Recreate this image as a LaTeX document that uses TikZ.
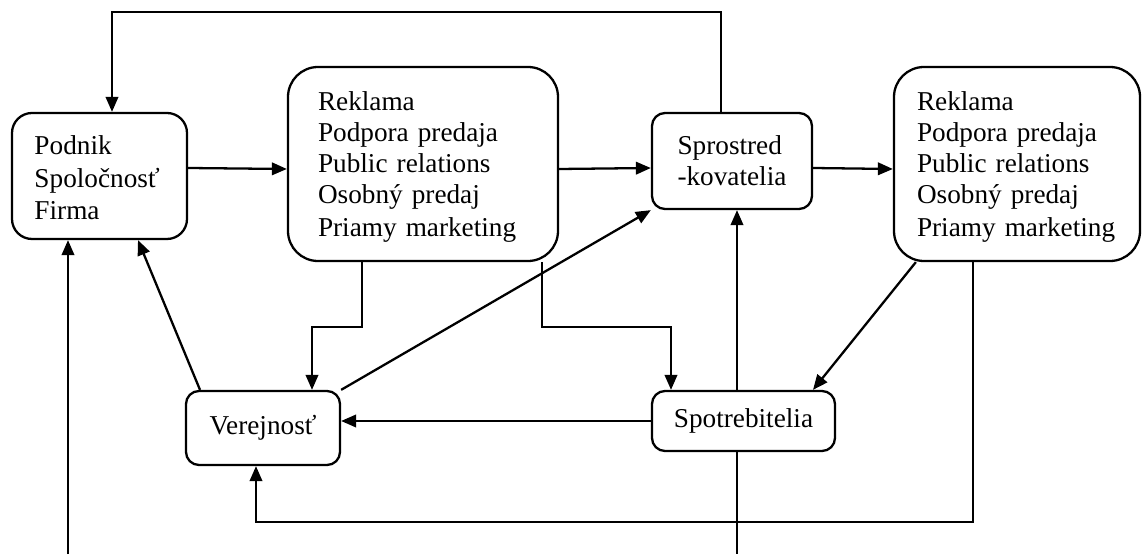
\documentclass[tikz,border=0pt]{standalone}
\usepackage{fontspec}
\setmainfont{Liberation Serif}[WordSpace=0.75]
\usetikzlibrary{arrows.meta}

\begin{document}
\begin{tikzpicture}[line width=1.3pt,>={Triangle[length=0.3cm,width=0.25cm]},
  bigbox/.style={draw,rounded corners=0.6cm,align=left,inner sep=0pt,
    font=\fontsize{15.5}{17.6}\selectfont},
  smallbox/.style={draw,rounded corners=0.26cm,align=left,inner sep=0pt,
    font=\fontsize{15.5}{17.6}\selectfont}]
\useasboundingbox (0,0) rectangle (22.94,11.08);
\node[smallbox,rounded corners=0.4cm,minimum width=3.5cm,minimum height=2.52cm,text width=2.6cm,
  font=\fontsize{15.5}{18.4}\selectfont] at (1.99,7.56) (podnik) {Podnik\rule{0pt}{13pt}\\Spoločnosť\\Firma};
\node[bigbox,minimum width=5.4cm,minimum height=3.88cm,text width=4.2cm] at (8.46,7.8) (rek1) {Reklama\rule{0pt}{14pt}\\Podpora predaja\\Public relations\\Osobný predaj\\[1pt]Priamy marketing};
\node[smallbox,minimum width=3.2cm,minimum height=1.92cm] at (14.64,7.86) (sprost) {Sprostred\\-kovatelia};
\node[bigbox,minimum width=4.92cm,minimum height=3.88cm,text width=4.0cm] at (20.34,7.8) (rek2) {Reklama\rule{0pt}{14pt}\\Podpora predaja\\Public relations\\Osobný predaj\\[1pt]Priamy marketing};
\node[smallbox,minimum width=3.08cm,minimum height=1.48cm] at (5.26,2.52) (verej) {Verejnosť};
\node[smallbox,minimum width=3.66cm,minimum height=1.2cm] at (14.87,2.66) (spotr) {Spotrebitelia};
\coordinate (inP) at (1.36,0);
\coordinate (outS) at (14.74,0);
\draw[->] ([xshift=-0.22cm]sprost.north) -- ++(0,2) -| ([xshift=0.25cm]podnik.north);
\draw[->] ([yshift=0.16cm]podnik.east) -- ([yshift=-0.1cm]rek1.west);
\draw[->] ([yshift=-0.1cm]rek1.east) -- ([yshift=-0.14cm]sprost.west);
\draw[->] ([yshift=-0.14cm]sprost.east) -- ([yshift=-0.1cm]rek2.west);
\draw[->] ([xshift=-1.22cm]rek1.south) -- ++(0,-1.3) -| ([xshift=0.98cm]verej.north);
\draw[->] ([xshift=2.38cm]rek1.south) -- ++(0,-1.3) -| ([xshift=-1.45cm]spotr.north);
\draw[->] (verej.north east) -- (sprost.south west);
\draw[->] ([xshift=-1.26cm]verej.north) -- ([xshift=0.77cm]podnik.south);
\draw[->] ([xshift=0.1cm]sprost.south |- spotr.north) -- ([xshift=0.1cm]sprost.south);
\draw[->] ([xshift=0.46cm]rek2.south west) -- ([xshift=1.39cm]spotr.north);
\draw[->] (spotr.west) -- (verej.east |- spotr.west);
\draw[->] ([xshift=-0.88cm]rek2.south) -- ++(0,-5.2) -| ([xshift=-0.14cm]verej.south);
\draw[->] (inP) -- (inP |- podnik.south);
\draw (spotr.south -| outS) -- (outS);
\end{tikzpicture}
\end{document}
